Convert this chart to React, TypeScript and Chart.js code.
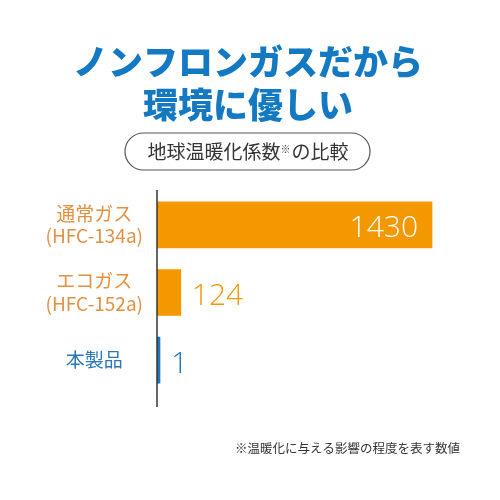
import React, { useEffect, useRef } from "react";
import { Chart, registerables } from "chart.js";

Chart.register(...registerables);

const titleLines = ["ノンフロンガスだから", "環境に優しい"];
const subtitleParts = ["地球温暖化係数", "※", "の比較"];
const footnote = "※温暖化に与える影響の程度を表す数値";
const categories = [["通常ガス", "(HFC-134a)"], ["エコガス", "(HFC-152a)"], ["本製品"]];
const values = [1430, 124, 1];
const valueLabels = ["1430", "124", "1"];

const ORANGE = "#f39800";
const ORANGE_TEXT = "#e3913f";
const BLUE = "#1a78c2";
const BLUE_TEXT = "#2a78b8";
const FONT = "'Noto Sans CJK JP', 'Noto Sans', sans-serif";
const LATIN_FONT = "'Open Sans', 'Noto Sans CJK JP', sans-serif";

const decorPlugin = {
  id: "decor",
  beforeDraw(chart: any) {
    const ctx = chart.ctx;
    ctx.save();
    // headline
    ctx.fillStyle = "#1479c3";
    ctx.font = `900 35px ${FONT}`;
    ctx.textAlign = "center";
    ctx.textBaseline = "middle";
    ctx.fillText(titleLines[0], 248, 62);
    ctx.fillText(titleLines[1], 248, 105);
    // pill
    const x0 = 125, x1 = 370, y0 = 133, y1 = 170, r = (y1 - y0) / 2;
    ctx.beginPath();
    ctx.moveTo(x0 + r, y0);
    ctx.lineTo(x1 - r, y0);
    ctx.arc(x1 - r, y0 + r, r, -Math.PI / 2, Math.PI / 2);
    ctx.lineTo(x0 + r, y1);
    ctx.arc(x0 + r, y0 + r, r, Math.PI / 2, (3 * Math.PI) / 2);
    ctx.closePath();
    ctx.strokeStyle = "#555";
    ctx.lineWidth = 1.2;
    ctx.stroke();
    ctx.fillStyle = "#333";
    const big = `400 19px ${FONT}`;
    const small = `400 10px ${FONT}`;
    ctx.font = big;
    const w0 = ctx.measureText(subtitleParts[0]).width;
    const w2 = ctx.measureText(subtitleParts[2]).width;
    ctx.font = small;
    const w1 = ctx.measureText(subtitleParts[1]).width + 1;
    let x = 248 - (w0 + w1 + w2) / 2;
    ctx.textAlign = "left";
    ctx.font = big;
    ctx.fillText(subtitleParts[0], x, 152);
    x += w0;
    ctx.font = small;
    ctx.fillText(subtitleParts[1], x, 149);
    x += w1;
    ctx.font = big;
    ctx.fillText(subtitleParts[2], x, 152);
    // footnote
    ctx.font = `400 12.5px ${FONT}`;
    ctx.textAlign = "right";
    ctx.fillText(footnote, 460, 448);
    ctx.restore();
  },
  afterDatasetsDraw(chart: any) {
    const ctx = chart.ctx;
    const area = chart.chartArea;
    ctx.save();
    // axis line
    ctx.strokeStyle = "#333";
    ctx.lineWidth = 1.5;
    ctx.beginPath();
    ctx.moveTo(area.left, 190);
    ctx.lineTo(area.left, 407);
    ctx.stroke();
    // value labels
    const meta = chart.getDatasetMeta(0);
    ctx.font = `300 30px ${LATIN_FONT}`;
    ctx.textBaseline = "alphabetic";
    meta.data.forEach((bar: any, i: number) => {
      const txt = valueLabels[i];
      if (i === 0) {
        ctx.fillStyle = "#fff";
        ctx.textAlign = "right";
        ctx.fillText(txt, bar.x - 14, bar.y + 12.5);
      } else {
        ctx.fillStyle = i === 1 ? ORANGE : BLUE;
        ctx.textAlign = "left";
        ctx.fillText(txt, bar.x + 11, bar.y + 12.5);
      }
    });
    ctx.restore();
  },
};

export default function App() {
  const ref = useRef<HTMLCanvasElement>(null);
  useEffect(() => {
    if (!ref.current) return;
    const chart = new Chart(ref.current, {
      type: "bar",
      data: {
        labels: categories,
        datasets: [
          {
            data: values,
            backgroundColor: [ORANGE, ORANGE, "#1f77c0"],
            borderWidth: 0,
            barThickness: 46,
            minBarLength: 3,
          },
        ],
      },
      options: {
        indexAxis: "y",
        animation: false,
        responsive: false,
        devicePixelRatio: 1,
        layout: { padding: { top: 191, bottom: 106, left: 0, right: 54.5 } },
        plugins: { legend: { display: false }, tooltip: { enabled: false }, title: { display: false } },
        scales: {
          x: { min: 0, max: 1500, display: false },
          y: {
            type: "category",
            grid: { display: false, drawTicks: false },
            border: { display: false },
            afterFit: (scale: any) => {
              scale.width = 157;
            },
            ticks: {
              padding: 14,
              crossAlign: "center",
              font: { family: FONT, size: 19, weight: "400", lineHeight: 1.2 },
              color: (c: any) => (c.index === 2 ? BLUE_TEXT : ORANGE_TEXT),
            },
          },
        },
      } as any,
      plugins: [decorPlugin],
    });
    return () => chart.destroy();
  }, []);
  return (
    <div style={{ position: "absolute", left: 0, top: 0, width: 500, height: 500, background: "#fff" }}>
      <canvas ref={ref} width={500} height={500} style={{ width: 500, height: 500 }} />
    </div>
  );
}
